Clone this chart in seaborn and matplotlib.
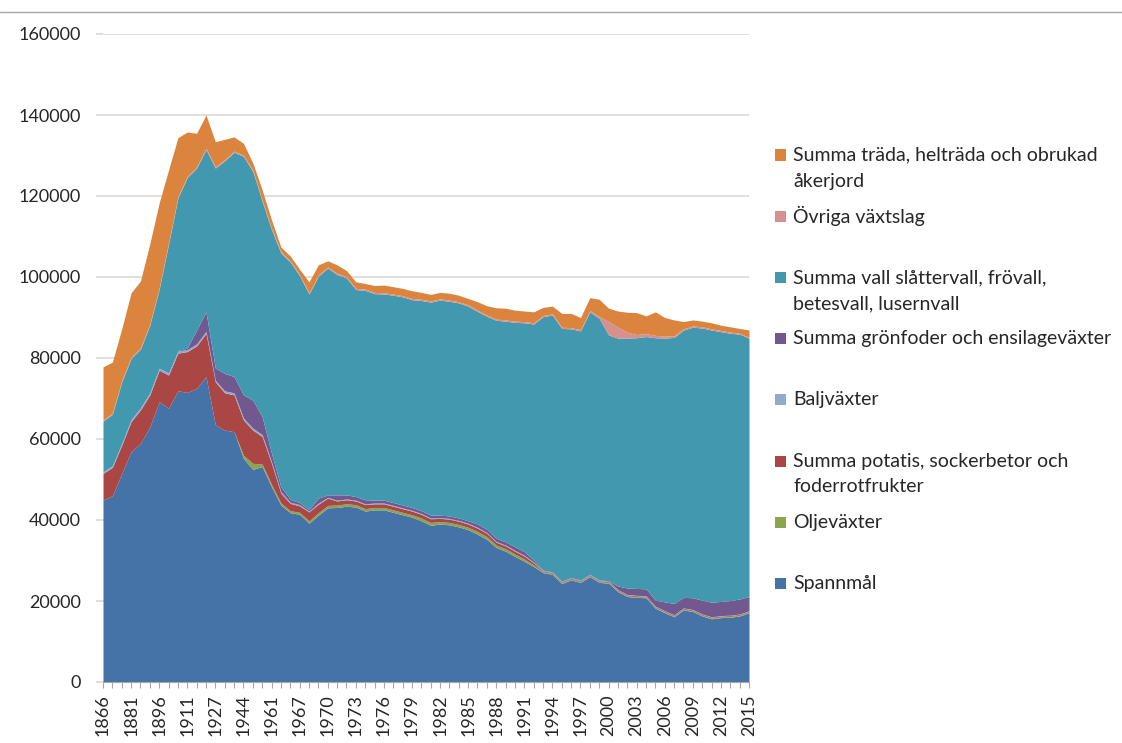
import numpy as np
import pandas as pd
import matplotlib
matplotlib.use("Agg")
import matplotlib.pyplot as plt
import seaborn as sns
from matplotlib.patches import Rectangle
from matplotlib.lines import Line2D

sns.set_theme(style="white")
plt.rcParams['font.family'] = ['Lato', 'DejaVu Sans']

years = [1866, 1871, 1876, 1881, 1886, 1891, 1896, 1901, 1906, 1911,
         1916, 1919, 1927, 1932, 1937, 1944, 1951, 1956, 1961, 1965,
         1966, 1967, 1968, 1969, 1970, 1971, 1972, 1973, 1974, 1975,
         1976, 1977, 1978, 1979, 1980, 1981, 1982, 1983, 1984, 1985,
         1986, 1987, 1988, 1989, 1990, 1991, 1992, 1993, 1994, 1995,
         1996, 1997, 1998, 1999, 2000, 2001, 2002, 2003, 2004, 2005,
         2006, 2007, 2008, 2009, 2010, 2011, 2012, 2013, 2014, 2015]

spannmal = [44900, 46000, 51500, 56900, 58900, 63000, 69200, 67600, 71900, 71500,
            72500, 75400, 63500, 62200, 61800, 55200, 52500, 53200, 48200, 43700,
            41800, 41400, 39200, 41200, 43000, 43100, 43400, 43200, 42200, 42500,
            42500, 41900, 41300, 40700, 39800, 38700, 39000, 38800, 38300, 37600,
            36500, 35200, 33200, 32300, 31000, 29800, 28500, 27000, 26600, 24300,
            25200, 24600, 26000, 24600, 24400, 22300, 21100, 20900, 20800, 18200,
            17100, 16100, 17800, 17400, 16300, 15600, 15900, 16000, 16300, 17100]

oljevaxter = [0, 0, 0, 0, 0, 0, 0, 0, 0, 0,
              0, 0, 0, 0, 0, 800, 1500, 600, 600, 500,
              500, 500, 600, 600, 600, 600, 600, 600, 600, 600,
              600, 600, 600, 600, 700, 700, 600, 600, 600, 600,
              700, 700, 600, 600, 600, 600, 400, 200, 200, 200,
              200, 200, 200, 200, 200, 200, 200, 200, 200, 200,
              200, 200, 200, 200, 200, 200, 200, 200, 200, 200]

potatis = [6600, 7000, 7000, 7400, 8300, 7900, 7800, 8200, 9300, 10100,
           10500, 10700, 10600, 9200, 9100, 8700, 8200, 6800, 5200, 2400,
           1800, 1600, 2200, 2100, 1800, 1000, 1000, 900, 1000, 900,
           900, 900, 900, 900, 900, 900, 800, 800, 800, 800,
           800, 800, 700, 700, 700, 700, 500, 200, 200, 200,
           200, 200, 200, 200, 200, 200, 200, 200, 200, 200,
           200, 200, 200, 200, 200, 200, 200, 200, 200, 200]

baljvaxter = [400, 400, 400, 500, 500, 500, 500, 500, 500, 500,
              500, 500, 400, 500, 500, 500, 500, 500, 400, 400,
              300, 300, 200, 300, 200, 200, 200, 200, 200, 200,
              200, 200, 200, 200, 200, 200, 200, 200, 200, 200,
              200, 200, 200, 200, 200, 200, 200, 100, 100, 100,
              100, 100, 100, 100, 100, 100, 100, 100, 100, 100,
              100, 100, 100, 100, 100, 100, 100, 100, 100, 100]

gronfoder = [0, 0, 0, 0, 0, 0, 0, 0, 100, 400,
             3400, 4800, 3000, 4300, 4000, 5700, 6900, 4400, 2100, 1200,
             700, 500, 400, 1200, 600, 1300, 1000, 900, 1000, 700,
             700, 700, 700, 700, 700, 700, 600, 600, 600, 600,
             800, 800, 800, 800, 900, 900, 500, 100, 100, 100,
             100, 100, 100, 100, 100, 900, 1600, 1700, 1700, 1500,
             2200, 2800, 2600, 2900, 3400, 3600, 3500, 3600, 3700, 3500]

vall = [12500, 12700, 15200, 15100, 14500, 16700, 19500, 31800, 37700, 42100,
        40000, 40100, 49400, 52500, 55400, 58900, 56500, 53200, 55200, 57700,
        58600, 56000, 53200, 54800, 56000, 54400, 53600, 51100, 51700, 51000,
        50900, 51200, 51400, 51300, 51900, 52600, 53100, 53000, 53100, 53000,
        52500, 52600, 53800, 54500, 55400, 56500, 58300, 62600, 63400, 62400,
        61400, 61500, 64800, 64600, 60700, 61200, 61700, 61900, 62300, 64800,
        65100, 65700, 66000, 66800, 67200, 67200, 66600, 66000, 65400, 63800]

ovriga = [300, 300, 300, 300, 300, 300, 300, 300, 300, 300,
          300, 300, 300, 300, 300, 300, 300, 300, 300, 300,
          300, 300, 300, 300, 300, 300, 300, 300, 300, 300,
          300, 300, 300, 300, 300, 300, 300, 300, 300, 300,
          300, 300, 300, 300, 300, 300, 300, 300, 300, 300,
          300, 300, 300, 500, 3300, 2700, 1500, 800, 700, 600,
          500, 400, 300, 300, 300, 300, 300, 300, 200, 200]

trada = [13100, 12600, 12800, 15900, 16500, 19800, 21000, 18000, 14600, 10900,
         8300, 8200, 6200, 5000, 3500, 2900, 1800, 2500, 2100, 1200,
         1200, 1300, 2700, 2500, 1500, 2100, 1500, 1600, 1400, 1700,
         1900, 1800, 1800, 1900, 1700, 1600, 1600, 1700, 1600, 1600,
         2100, 2300, 2800, 2900, 2700, 2600, 2700, 2000, 1900, 3400,
         3500, 3000, 3200, 4200, 3300, 4000, 4900, 5400, 4400, 5800,
         4600, 3900, 1800, 1500, 1400, 1500, 1300, 1300, 1200, 1800]

series_names = ["Spannmål", "Oljeväxter",
                "Summa potatis, sockerbetor och\nfoderrotfrukter", "Baljväxter",
                "Summa grönfoder och ensilageväxter",
                "Summa vall slåttervall, frövall,\nbetesvall, lusernvall",
                "Övriga växtslag",
                "Summa träda, helträda och obrukad\nåkerjord"]
colors = ["#4572A7", "#89A54E", "#AA4643", "#93A9CF",
          "#71588F", "#4198AF", "#D6908E", "#DB843D"]

df = pd.DataFrame({"år": years, "Spannmål": spannmal, "Oljeväxter": oljevaxter,
                   "Potatis": potatis, "Baljväxter": baljvaxter,
                   "Grönfoder": gronfoder, "Vall": vall,
                   "Övriga": ovriga, "Träda": trada})

W, H = 1122, 743
fig = plt.figure(figsize=(W / 100, H / 100), dpi=100)
ax = fig.add_axes([103 / W, 1 - 682 / H, 646 / W, 648 / H])

x = np.arange(len(df))
ax.stackplot(x, df["Spannmål"], df["Oljeväxter"], df["Potatis"], df["Baljväxter"],
             df["Grönfoder"], df["Vall"], df["Övriga"], df["Träda"],
             colors=colors, linewidth=0, zorder=2)

ax.set_xlim(0, len(df) - 1)
ax.set_ylim(0, 160000)
ax.set_yticks(range(0, 160001, 20000))
ax.set_yticklabels([str(v) for v in range(0, 160001, 20000)])
ax.yaxis.grid(True, color="#D9D9D9", linewidth=1.2, zorder=0)
ax.xaxis.grid(False)

ax.set_xticks(x[::3])
ax.set_xticklabels([str(y) for y in years[::3]], rotation=90)
ax.set_xticks(x, minor=True)
ax.tick_params(axis="x", which="both", direction="out", length=4, color="#A6A6A6",
               width=0.8, bottom=True)
ax.tick_params(axis="x", which="major", labelsize=13, pad=5, labelcolor="#262626")
ax.tick_params(axis="y", direction="out", length=5, color="#D9D9D9", width=1.2,
               left=True, labelsize=13, pad=11, labelcolor="#262626")

for s in ["top", "right", "left"]:
    ax.spines[s].set_visible(False)
ax.spines["bottom"].set_color("#A6A6A6")
ax.spines["bottom"].set_linewidth(0.8)
ax.set_xlabel("")
ax.set_ylabel("")

# chart area border (only top edge shows in the screenshot)
fig.add_artist(Line2D([0, 1], [1 - 12 / H, 1 - 12 / H], transform=fig.transFigure,
                      color="#A6A6A6", linewidth=1))

# legend, top entry first like Excel
leg_y0, leg_step = 155, 61.2
for k, (name, col) in enumerate(zip(series_names[::-1], colors[::-1])):
    yc = leg_y0 + k * leg_step
    fig.patches.append(Rectangle((775 / W, 1 - (yc + 5.5) / H), 11 / W, 11 / H,
                                 transform=fig.transFigure, facecolor=col,
                                 edgecolor="none"))
    for j, line in enumerate(name.split("\n")):
        fig.text(793 / W, 1 - (yc + j * 26) / H, line, fontsize=14,
                 color="#262626", va="center", ha="left")

fig.savefig("out.png", dpi=100)
